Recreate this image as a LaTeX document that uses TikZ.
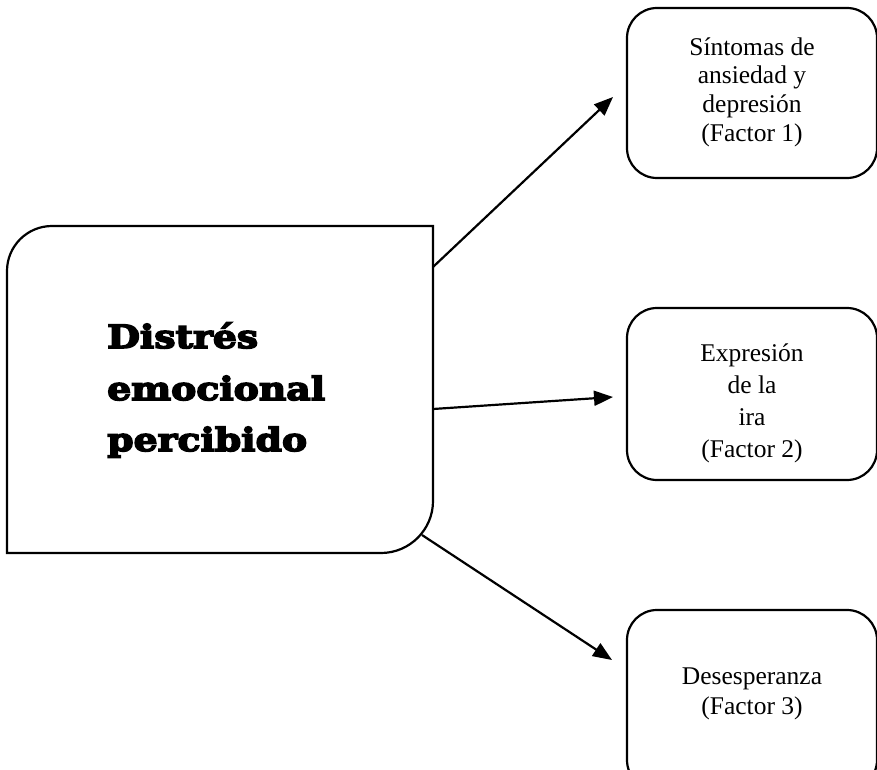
\documentclass[tikz,border=0pt]{standalone}
\usepackage{fontspec}
\setmainfont{Liberation Serif}
\newfontfamily\coop{DejaVu Serif}[BoldFeatures={FakeBold=5,FakeStretch=1.18}]
\usetikzlibrary{arrows.meta}
\begin{document}
\begin{tikzpicture}[x=1pt,y=-1pt,
  factorbox/.style={draw,line width=2.2pt,rounded corners=30pt,minimum width=250pt,inner sep=0pt},
  factortext/.style={align=center,inner sep=0pt},
  maintext/.style={anchor=base west,inner sep=0pt,font=\coop\bfseries\fontsize{32pt}{40pt}\selectfont},
  arrowline/.style={line width=2.2pt,-{Triangle[length=19pt,width=15pt]}}]
\useasboundingbox (0,0) rectangle (877,770);
% main box outline
\draw[line width=2.2pt] (7,553) -- (7,271) .. controls (7,246.15) and (27.15,226) .. (52,226)
  -- (433,226) -- (433,501) .. controls (433,529.7) and (409.7,553) .. (381,553) -- cycle;
\node[inner sep=0pt,minimum width=426pt,minimum height=327pt] (main) at (220,389.5) {};
\node[maintext] (m1) at (107,348) {Distrés};
\node[maintext] (m2) at (107,400) {emocional};
\node[maintext] (m3) at (107,451) {percibido};
% factor boxes
\node[factorbox,minimum height=170pt] (b1) at (752,93) {};
\node[factorbox,minimum height=172pt] (b2) at (752,394) {};
\node[factorbox,minimum height=180pt] (b3) at (752,700) {};
\node[factortext,font=\fontsize{25.5pt}{28.7pt}\selectfont] (t1) at (752,92) {Síntomas de\\ansiedad y\\depresión\\(Factor 1)};
\node[factortext,font=\fontsize{25.5pt}{32pt}\selectfont] (t2) at (752,403) {Expresión\\de la\\ira\\(Factor 2)};
\node[factortext,font=\fontsize{25.5pt}{30pt}\selectfont] (t3) at (752,694) {Desesperanza\\(Factor 3)};
% connectors
\coordinate (s1) at (433,267);
\coordinate (s2) at (433,409);
\coordinate (s3) at (422,535);
\coordinate (e1) at (613,97);
\coordinate (e2) at (613,397);
\coordinate (e3) at (612,660);
\draw[arrowline] (s1) -- (e1);
\draw[arrowline] (s2) -- (e2);
\draw[arrowline] (s3) -- (e3);
\end{tikzpicture}
\end{document}
